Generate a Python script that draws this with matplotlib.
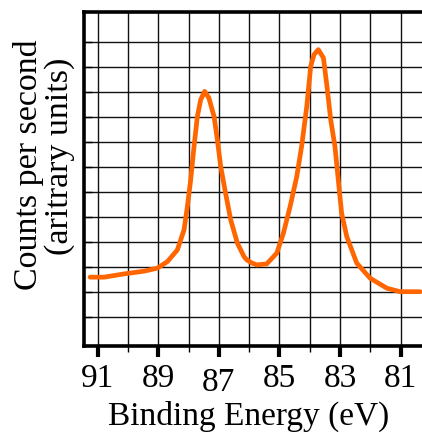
import matplotlib.pyplot as plt
import matplotlib.transforms as mtransforms

# ==========================================
# SPECTRUM DATA
# ==========================================

energy = [
    91.25, 90.79, 90.13, 89.47, 89.03, 88.70, 88.37, 88.15, 88.04, 87.93,
    87.82, 87.71, 87.60, 87.47, 87.33, 87.16, 87.05, 86.94, 86.78, 86.61,
    86.39, 86.17, 86.08, 85.90, 85.75, 85.42, 85.09, 84.87, 84.65, 84.43,
    84.27, 84.10, 83.97, 83.86, 83.72, 83.55, 83.42, 83.31, 83.17, 83.06,
    82.95, 82.78, 82.45, 82.01, 81.46, 81.02, 80.36
]

counts = [
    2.60, 2.60, 2.73, 2.84, 2.96, 3.22, 3.69, 4.49, 5.42, 6.49,
    7.82, 9.02, 9.69, 10.02, 9.76, 9.02, 8.09, 7.02, 5.96, 4.89,
    3.96, 3.42, 3.29, 3.16, 3.09, 3.13, 3.56, 4.36, 5.42, 6.62,
    7.82, 9.42, 11.02, 11.49, 11.69, 11.36, 10.09, 8.89, 7.82, 6.49,
    5.16, 4.22, 3.16, 2.56, 2.16, 2.02, 2.02
]

major_x = [91, 89, 87, 85, 83, 81]
minor_x = [90, 88, 86, 84, 82]
grid_y = [1, 2, 3, 4, 5, 6, 7, 8, 9, 10, 11, 12]

# ==========================================
# FIGURE
# ==========================================

plt.rcParams["font.family"] = ["Liberation Serif", "DejaVu Serif"]

fig = plt.figure(figsize=(4.22, 4.32), dpi=100)
ax = fig.add_axes([0.199, 0.198, 0.801, 0.774])

ax.plot(energy, counts, color="#ff6600", linewidth=3.4,
        solid_capstyle="round", solid_joinstyle="round", zorder=3)

ax.set_xlim(91.452, 80.297)
ax.set_ylim(-0.168, 13.188)

ax.set_xticks(major_x)
ax.set_xticks(minor_x, minor=True)
ax.set_xticklabels([str(v) for v in major_x], fontsize=24)
ax.set_yticks(grid_y)
ax.set_yticklabels([])

ax.tick_params(axis="x", which="major", direction="out", length=8, width=3, pad=4)
ax.tick_params(axis="x", which="minor", direction="out", length=4, width=1)
ax.tick_params(axis="y", direction="in", length=6, width=1)

ax.grid(True, which="both", color="#111111", linewidth=1.0)
ax.set_axisbelow(True)

for side in ["left", "bottom", "top"]:
    ax.spines[side].set_linewidth(2.6)
ax.spines["right"].set_visible(False)

# the "87" label sits a little lower in the original
shift = mtransforms.ScaledTranslation(0, -3 / 72, fig.dpi_scale_trans)
for lab in ax.get_xticklabels():
    if lab.get_text() == "87":
        lab.set_transform(lab.get_transform() + shift)

# ==========================================
# AXIS LABELS
# ==========================================

fig.text(0.59, 0.016, "Binding Energy (eV)", fontsize=24,
         ha="center", va="baseline")

fig.text(0.088, 0.618, "Counts per second", fontsize=24.5, rotation=90,
         rotation_mode="anchor", ha="center", va="baseline")
fig.text(0.161, 0.639, "(aritrary units)", fontsize=24.5, rotation=90,
         rotation_mode="anchor", ha="center", va="baseline")

fig.savefig("out.png", dpi=100)
